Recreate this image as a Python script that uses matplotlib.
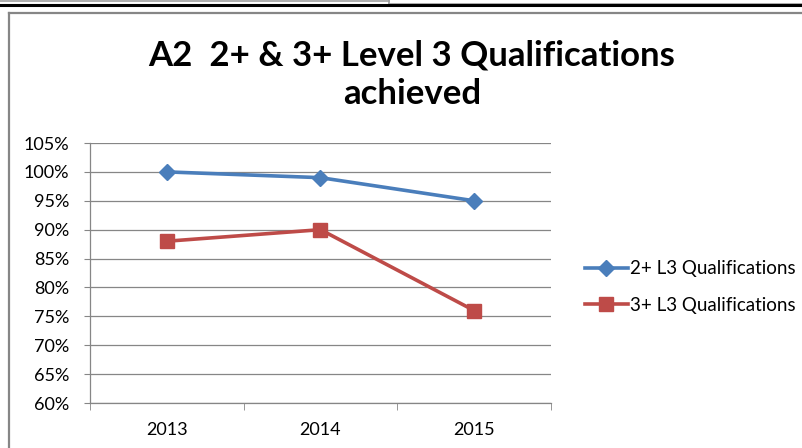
import matplotlib.pyplot as plt
from matplotlib.lines import Line2D
from matplotlib.ticker import FuncFormatter

# === MARK: Data
years = ['2013', '2014', '2015']
two_plus = [100, 99, 95]
three_plus = [88, 90, 76]
series_names = ['2+ L3 Qualifications', '3+ L3 Qualifications']
title_text = 'A2  2+ & 3+ Level 3 Qualifications\nachieved'

plt.rcParams['font.family'] = ['Lato', 'DejaVu Sans']

fig = plt.figure(figsize=(8.03, 4.48), dpi=100)
W, H = 803, 448

# === MARK: Frame / window artifacts
def fig_line(x0, y0, x1, y1, color, lw):
    fig.add_artist(Line2D([x0 / W, x1 / W], [1 - y0 / H, 1 - y1 / H],
                          color=color, lw=lw, transform=fig.transFigure))

fig_line(0, 1.5, 389, 1.5, '#a0a0a0', 1.2)
fig_line(389, 0, 389, 4, '#a0a0a0', 1.2)
fig_line(389, 4, 803, 4, '#a0a0a0', 1.2)
fig_line(0, 5.5, 803, 5.5, 'black', 2.2)
fig_line(9, 13, 803, 13, '#868686', 1.6)
fig_line(9, 13, 9, 448, '#868686', 1.6)

# === MARK: Axes
ax = fig.add_axes([90 / W, 1 - 403 / H, 461 / W, 260 / H])
x = list(range(len(years)))

blue = '#4a7ebb'
red = '#be4b48'
ax.plot(x, two_plus, color=blue, lw=2.6, marker='D', markersize=8.5,
        label=series_names[0], zorder=3)
ax.plot(x, three_plus, color=red, lw=2.6, marker='s', markersize=10,
        label=series_names[1], zorder=3)

ax.set_xlim(-0.5, 2.5)
ax.set_ylim(60, 105)
ax.set_yticks(range(60, 106, 5))
ax.yaxis.set_major_formatter(FuncFormatter(lambda v, p: f'{int(v)}%'))
ax.set_xticks(x)
ax.set_xticklabels(years)
ax.set_xticks([-0.5, 0.5, 1.5, 2.5], minor=True)
ax.tick_params(axis='x', which='major', length=0, pad=14, labelsize=13)
ax.tick_params(axis='x', which='minor', length=5, color='#868686')
ax.tick_params(axis='y', length=4, color='#868686', labelsize=13, pad=11)

ax.grid(axis='y', color='#868686', lw=0.9)
ax.set_axisbelow(True)
for s in ['top', 'right']:
    ax.spines[s].set_visible(False)
for s in ['left', 'bottom']:
    ax.spines[s].set_color('#868686')
    ax.spines[s].set_linewidth(0.9)

fig.text(412 / W, 1 - 75 / H, title_text, ha='center', va='center',
         fontsize=25, fontweight='bold', linespacing=1.25)

fig.legend(loc='center left', bbox_to_anchor=(568 / W, 1 - 287 / H),
           frameon=False, fontsize=13.5, handlelength=2.3,
           handletextpad=0.1, labelspacing=1.05)

fig.savefig('out.png', dpi=100)
